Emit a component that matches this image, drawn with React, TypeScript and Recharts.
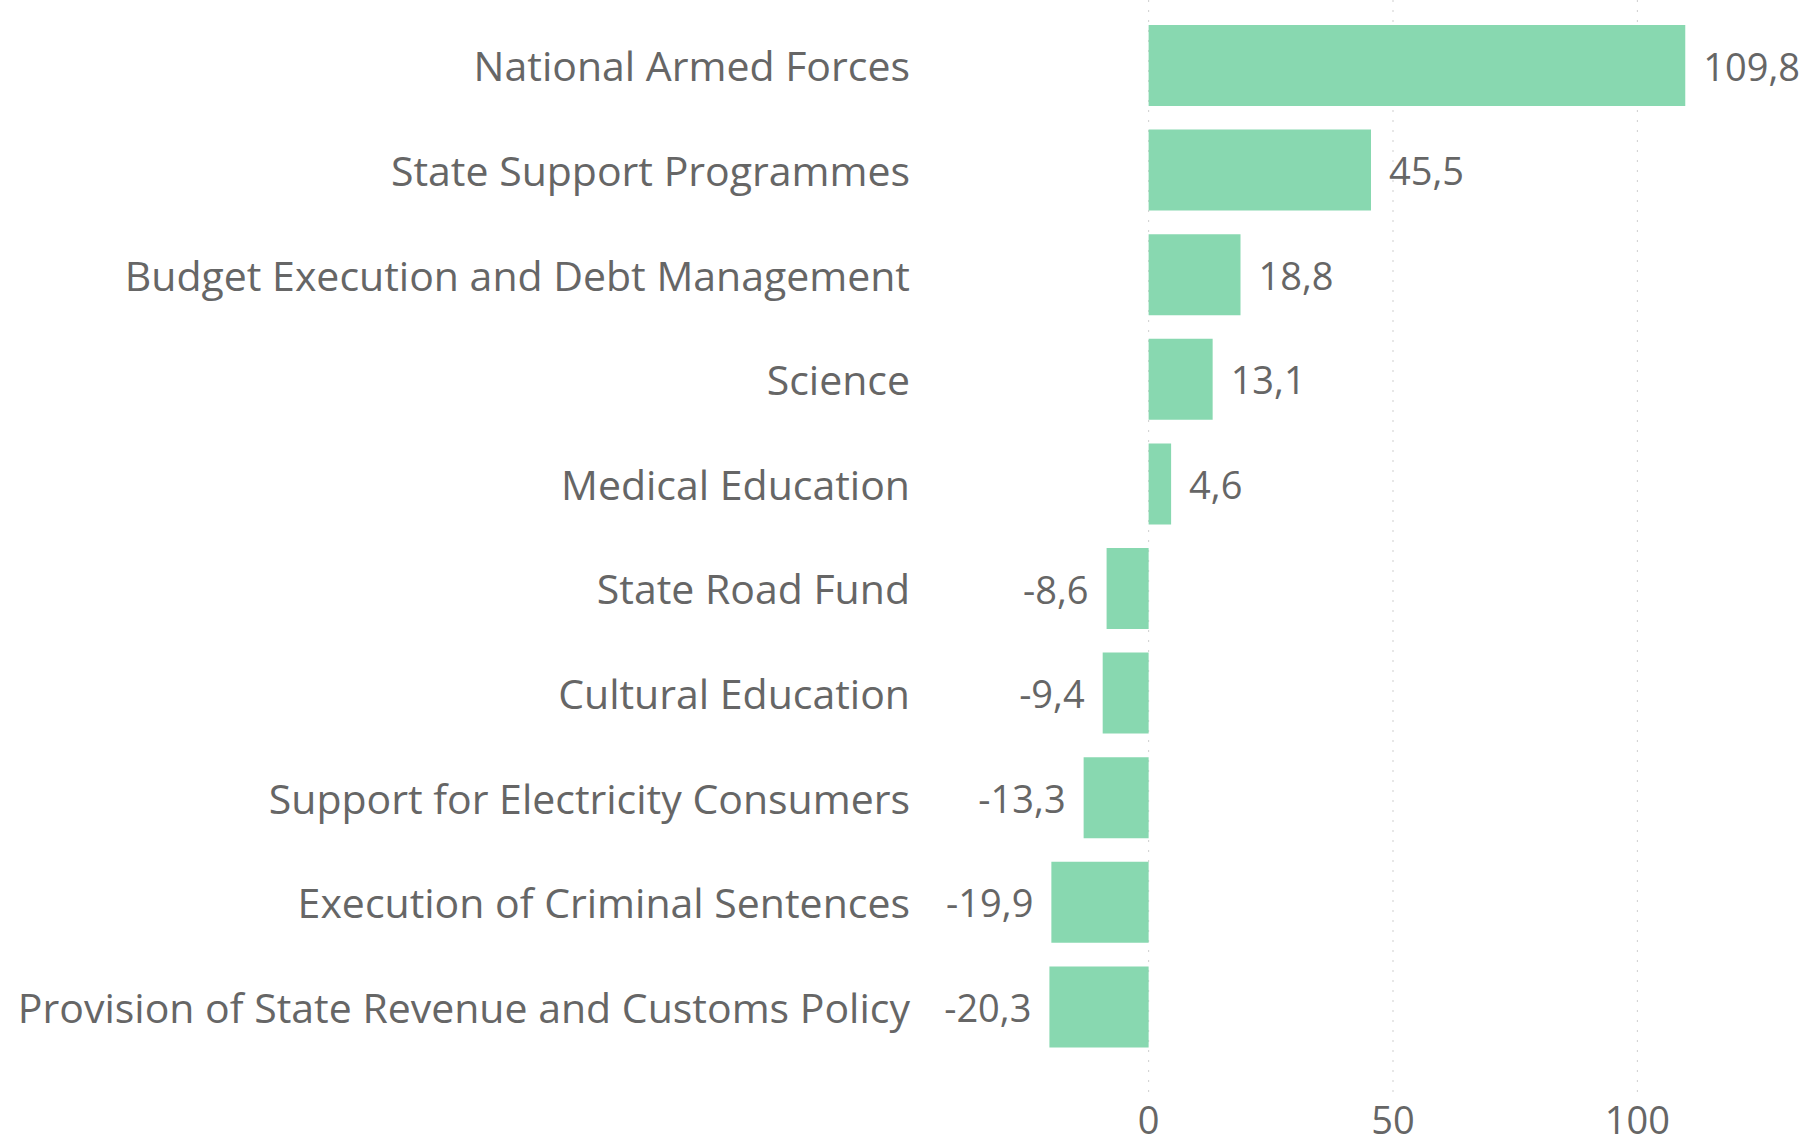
import React from 'react';
import { BarChart, Bar, XAxis, YAxis, CartesianGrid, LabelList } from 'recharts';

const categories = [
  'National Armed Forces',
  'State Support Programmes',
  'Budget Execution and Debt Management',
  'Science',
  'Medical Education',
  'State Road Fund',
  'Cultural Education',
  'Support for Electricity Consumers',
  'Execution of Criminal Sentences',
  'Provision of State Revenue and Customs Policy',
];
const values = [109.8, 45.5, 18.8, 13.1, 4.6, -8.6, -9.4, -13.3, -19.9, -20.3];
const xTicks = [0, 50, 100];

const data = categories.map((name, i) => ({ name, value: values[i] }));

const FONT = "'Open Sans', 'Noto Sans', sans-serif";
const TEXT = '#666666';
const BAR = '#88d8b0';

const fmt = (v: number) => v.toFixed(1).replace('.', ',');

const YTick = (props: any) => {
  const { x, y, payload } = props;
  return (
    <text x={x} y={y} textAnchor="end" dominantBaseline="central" fill={TEXT} fontSize={41} fontFamily={FONT}>
      {payload.value}
    </text>
  );
};

const XTick = (props: any) => {
  const { x, y, payload } = props;
  return (
    <text x={x} y={y} textAnchor="middle" dominantBaseline="hanging" fill={TEXT} fontSize={38} fontFamily={FONT}>
      {payload.value}
    </text>
  );
};

const ValueLabel = (props: any) => {
  const { x, y, width, height, value } = props;
  const left = Math.min(x, x + width);
  const right = Math.max(x, x + width);
  const cy = y + height / 2;
  const pos = value >= 0;
  return (
    <text
      x={pos ? right + 18 : left - 18}
      y={cy}
      textAnchor={pos ? 'start' : 'end'}
      dominantBaseline="central"
      fill={TEXT}
      fontSize={38}
      fontFamily={FONT}
    >
      {fmt(value)}
    </text>
  );
};

export default function App() {
  return (
    <div style={{ position: 'absolute', left: 0, top: 0, width: 1807, height: 1140, background: '#fff' }}>
      <BarChart
        width={1807}
        height={1140}
        data={data}
        layout="vertical"
        margin={{ top: 0, right: 23, left: 0, bottom: 0 }}
      >
        <CartesianGrid
          horizontal={false}
          vertical
          verticalValues={xTicks}
          stroke="#cfcfcf"
          strokeDasharray="2 8"
        />
        <XAxis
          type="number"
          domain={[-30, 130]}
          ticks={xTicks}
          axisLine={false}
          tickLine={false}
          tickSize={0}
          tickMargin={8}
          height={47}
          tick={<XTick />}
        />
        <YAxis
          type="category"
          dataKey="name"
          width={1002}
          axisLine={false}
          tickLine={false}
          tickSize={0}
          tickMargin={92}
          padding={{ top: 13, bottom: 34 }}
          tick={<YTick />}
          interval={0}
        />
        <Bar dataKey="value" fill={BAR} barSize={81} isAnimationActive={false}>
          <LabelList dataKey="value" content={<ValueLabel />} />
        </Bar>
      </BarChart>
    </div>
  );
}
